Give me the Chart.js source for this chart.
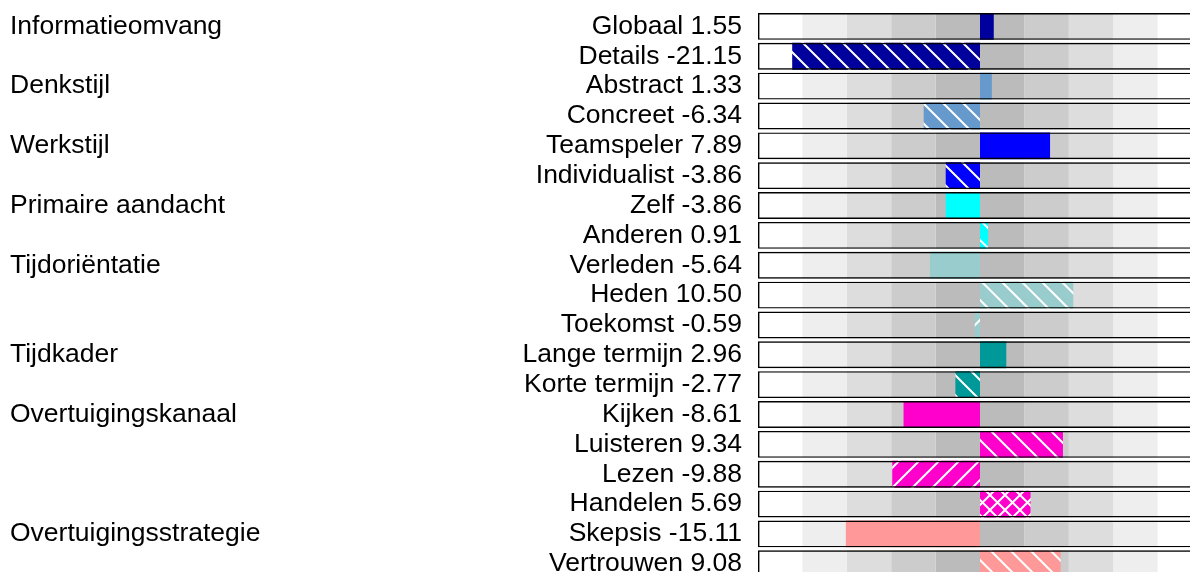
<!DOCTYPE html>
<html>
<head>
<meta charset="utf-8">
<script src="https://cdn.jsdelivr.net/npm/chart.js@4.4.1/dist/chart.umd.min.js"></script>
<style>
  html, body { margin: 0; padding: 0; background: #fff; overflow: hidden; }
</style>
</head>
<body>
<canvas id="profileChart" width="1210" height="600"></canvas>
<script>
// group names, only on the first row of each group
const groups = ['Informatieomvang', '', 'Denkstijl', '', 'Werkstijl', '', 'Primaire aandacht', '',
  'Tijdoriëntatie', '', '', 'Tijdkader', '', 'Overtuigingskanaal', '', '', '', 'Overtuigingsstrategie', ''];

const items = ['Globaal', 'Details', 'Abstract', 'Concreet', 'Teamspeler', 'Individualist', 'Zelf', 'Anderen',
  'Verleden', 'Heden', 'Toekomst', 'Lange termijn', 'Korte termijn', 'Kijken', 'Luisteren', 'Lezen',
  'Handelen', 'Skepsis', 'Vertrouwen'];

const scores = [1.55, -21.15, 1.33, -6.34, 7.89, -3.86, -3.86, 0.91, -5.64, 10.50, -0.59, 2.96, -2.77,
  -8.61, 9.34, -9.88, 5.69, -15.11, 9.08];

// fill colour and hatch kind per row ('' = solid)
const barColors = ['#00009c', '#00009c', '#6699cc', '#6699cc', '#0000ff', '#0000ff', '#00ffff', '#00ffff',
  '#99cccc', '#99cccc', '#99cccc', '#009999', '#009999', '#ff00cc', '#ff00cc', '#ff00cc', '#ff00cc',
  '#ff9999', '#ff9999'];
const hatches = ['', 'back', '', 'back', '', 'back', '', 'back', '', 'back', 'fwd', '', 'back', '', 'back',
  'fwd', 'cross', '', 'back'];

// grey bands behind the bars
const bandEdges = [-20, -15, -10, -5, 0, 5, 10, 15, 20];
const bandColors = ['#eeeeee', '#dddddd', '#cccccc', '#bbbbbb', '#bbbbbb', '#cccccc', '#dddddd', '#eeeeee'];

const axisMin = -25;
const axisMax = 25;

// small tile with white diagonal lines
function hatch(color, kind) {
    const size = kind === 'cross' ? 15 : 20;
    const c = document.createElement('canvas');
    c.width = size;
    c.height = size;
    const g = c.getContext('2d');
    g.fillStyle = color;
    g.fillRect(0, 0, size, size);
    g.strokeStyle = '#ffffff';
    g.lineWidth = 2;
    g.beginPath();
    for (const off of [-size, 0, size]) {
        if (kind === 'back' || kind === 'cross') {
            g.moveTo(off - 1, -1);
            g.lineTo(off + size + 1, size + 1);
        }
        if (kind === 'fwd' || kind === 'cross') {
            g.moveTo(off - 1, size + 1);
            g.lineTo(off + size + 1, -1);
        }
    }
    g.stroke();
    return g.createPattern(c, 'repeat');
}

const fills = barColors.map((col, i) => hatches[i] ? hatch(col, hatches[i]) : col);
const rowLabels = items.map((name, i) => `${name} ${scores[i].toFixed(2)}`);

const datasets = [
    {
        // the black frame of every row
        data: items.map(() => [axisMin, axisMax]),
        backgroundColor: 'rgba(0,0,0,0)',
        borderColor: '#000000',
        borderWidth: 1.4,
        borderSkipped: false
    },
    {
        data: scores,
        backgroundColor: fills,
        borderWidth: 0
    }
];

for (let b = 0; b < bandColors.length; b++) {
    datasets.push({
        data: items.map(() => [bandEdges[b], bandEdges[b + 1]]),
        backgroundColor: bandColors[b],
        borderWidth: 0
    });
}

const font = { family: "'Liberation Sans', Arial, sans-serif", size: 26.5 };

new Chart(document.getElementById('profileChart'), {
    type: 'bar',
    data: { labels: rowLabels, datasets: datasets },
    options: {
        indexAxis: 'y',
        responsive: false,
        animation: false,
        devicePixelRatio: 1,
        datasets: {
            bar: { grouped: false, categoryPercentage: 1, barPercentage: 0.9 }
        },
        layout: { padding: { left: 10, right: 8, top: 11.5, bottom: 21.3 } },
        plugins: { legend: { display: false }, tooltip: { enabled: false } },
        scales: {
            x: { type: 'linear', min: axisMin, max: axisMax, display: false },
            y: {
                type: 'category',
                weight: 0,
                grid: { display: false, drawTicks: false },
                border: { display: false },
                ticks: { autoSkip: false, padding: 16, color: '#000000', font: font },
                afterFit: function(scale) {
                    scale.width = 448;
                    scale.paddingTop = 0;
                    scale.paddingBottom = 0;
                }
            },
            groups: {
                type: 'category',
                position: 'left',
                labels: groups,
                offset: true,
                weight: 1,
                grid: { display: false, drawTicks: false },
                border: { display: false },
                ticks: { autoSkip: false, crossAlign: 'far', padding: 0, color: '#000000', font: font },
                afterFit: function(scale) {
                    scale.width = 300;
                    scale.paddingTop = 0;
                    scale.paddingBottom = 0;
                }
            }
        }
    }
});
</script>
</body>
</html>
